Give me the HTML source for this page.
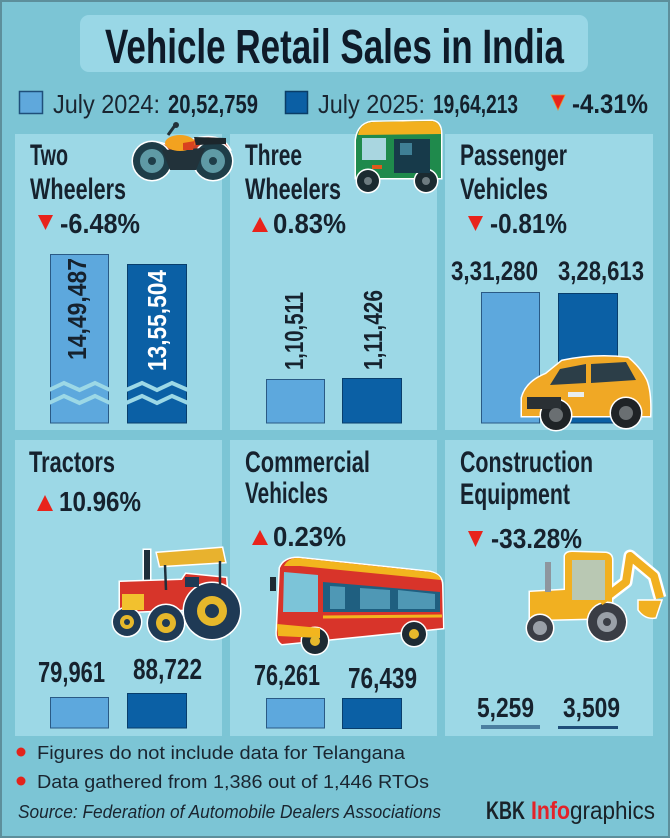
<!DOCTYPE html>
<html>
<head>
<meta charset="utf-8">
<style>
  html,body{margin:0;padding:0;background:#7cc5d5;}
  svg{display:block;}
  text{font-family:"Liberation Sans",sans-serif;}
</style>
</head>
<body>
<svg width="670" height="838" viewBox="0 0 670 838" xmlns="http://www.w3.org/2000/svg">
  <!-- background -->
  <rect x="0" y="0" width="670" height="838" fill="#7cc5d5"/>
  <rect x="1" y="1" width="668" height="836" fill="none" stroke="#5d8f9b" stroke-width="2"/>

  <!-- title -->
  <rect x="80" y="15" width="508" height="57" rx="9" fill="#99d7e6"/>
  <text x="105" y="63" font-size="48" font-weight="bold" fill="#0e1a28" textLength="459" lengthAdjust="spacingAndGlyphs">Vehicle Retail Sales in India</text>

  <!-- legend -->
  <rect x="19.5" y="91.5" width="23" height="22" fill="#5fa8dc" stroke="#1f4f7a" stroke-width="1.5"/>
  <text x="53" y="113" font-size="26" fill="#1a2530" textLength="107" lengthAdjust="spacingAndGlyphs">July 2024:</text>
  <text x="168" y="113" font-size="26" font-weight="bold" fill="#14202c" textLength="90" lengthAdjust="spacingAndGlyphs">20,52,759</text>
  <rect x="285.5" y="91.5" width="22" height="22" fill="#0b5fa4" stroke="#0a3d66" stroke-width="1.5"/>
  <text x="318" y="113" font-size="26" fill="#1a2530" textLength="107" lengthAdjust="spacingAndGlyphs">July 2025:</text>
  <text x="433" y="113" font-size="26" font-weight="bold" fill="#14202c" textLength="85" lengthAdjust="spacingAndGlyphs">19,64,213</text>
  <polygon points="551,95 565,95 558,110" fill="#e8231b" stroke="#f08a2a" stroke-width="0.8"/>
  <text x="572" y="113" font-size="27" font-weight="bold" fill="#14202c" textLength="76" lengthAdjust="spacingAndGlyphs">-4.31%</text>

  <!-- panels -->
  <g fill="#9cd8e6">
    <rect x="15" y="134" width="207" height="296"/>
    <rect x="230" y="134" width="207" height="296"/>
    <rect x="445" y="134" width="208" height="296"/>
    <rect x="15" y="440" width="207" height="296"/>
    <rect x="230" y="440" width="207" height="296"/>
    <rect x="445" y="440" width="208" height="296"/>
  </g>

  <!-- ===== Panel 1: Two Wheelers ===== -->
  <g fill="#16222e" font-weight="bold">
    <text x="30" y="165" font-size="30" textLength="38" lengthAdjust="spacingAndGlyphs">Two</text>
    <text x="30" y="199" font-size="30" textLength="96" lengthAdjust="spacingAndGlyphs">Wheelers</text>
    <text x="60" y="233" font-size="28" textLength="80" lengthAdjust="spacingAndGlyphs">-6.48%</text>
  </g>
  <polygon points="38,215 53,215 45.5,230" fill="#e8231b"/>
  <!-- bars -->
  <rect x="50.5" y="254.5" width="58" height="168.5" fill="#5da8dd" stroke="#2a5a85" stroke-width="1"/>
  <rect x="127.5" y="264.5" width="59" height="158.5" fill="#0b60a5" stroke="#083e6c" stroke-width="1"/>
  <g fill="none" stroke="#9cd8e6" stroke-width="4" stroke-linejoin="miter">
    <polyline points="49,390 64,383 79.5,390 95,383 110,390"/>
    <polyline points="49,403 64,396 79.5,403 95,396 110,403"/>
    <polyline points="126,390 142,383 157,390 172,383 188,390"/>
    <polyline points="126,403 142,396 157,403 172,396 188,403"/>
  </g>
  <text transform="translate(86,360) rotate(-90)" font-size="26" font-weight="bold" fill="#16222e" textLength="102" lengthAdjust="spacingAndGlyphs">14,49,487</text>
  <text transform="translate(166,371) rotate(-90)" font-size="26" font-weight="bold" fill="#ffffff" textLength="101" lengthAdjust="spacingAndGlyphs">13,55,504</text>
  <!-- motorcycle -->
  <g stroke="#ffffff" stroke-width="3" paint-order="stroke">
    <path d="M140,150 Q152,138 168,146 L200,138 Q222,134 230,150 L224,160 L150,160 Z" fill="#c8402a"/>
    <circle cx="152" cy="161" r="19" fill="#1e3d48"/>
    <circle cx="213" cy="161" r="19" fill="#1e3d48"/>
  </g>
  <circle cx="152" cy="161" r="12" fill="#5f9aa5"/>
  <circle cx="152" cy="161" r="4" fill="#1e3d48"/>
  <circle cx="213" cy="161" r="12" fill="#5f9aa5"/>
  <circle cx="213" cy="161" r="4" fill="#1e3d48"/>
  <polygon points="162,150 205,148 196,170 170,170" fill="#22323a"/>
  <ellipse cx="180" cy="143" rx="15" ry="8" fill="#f3a21f"/>
  <path d="M183,143 L195,141 L193,150 L183,150 Z" fill="#d9421f"/>
  <path d="M194,137 L226,138 L226,144 L196,145 Z" fill="#1c262c"/>
  <line x1="168" y1="135" x2="176" y2="124" stroke="#22323a" stroke-width="3"/>
  <circle cx="176" cy="125" r="3" fill="#22323a"/>

  <!-- ===== Panel 2: Three Wheelers ===== -->
  <g fill="#16222e" font-weight="bold">
    <text x="245" y="165" font-size="30" textLength="57" lengthAdjust="spacingAndGlyphs">Three</text>
    <text x="245" y="199" font-size="30" textLength="96" lengthAdjust="spacingAndGlyphs">Wheelers</text>
    <text x="273" y="233" font-size="28" textLength="73" lengthAdjust="spacingAndGlyphs">0.83%</text>
  </g>
  <polygon points="252,232 268,232 260,217" fill="#e8231b"/>
  <rect x="266.5" y="379.5" width="58" height="43.5" fill="#5da8dd" stroke="#2a5a85" stroke-width="1"/>
  <rect x="342.5" y="378.5" width="59" height="44.5" fill="#0b60a5" stroke="#083e6c" stroke-width="1"/>
  <text transform="translate(303,370) rotate(-90)" font-size="26" font-weight="bold" fill="#16222e" textLength="78" lengthAdjust="spacingAndGlyphs">1,10,511</text>
  <text transform="translate(382,370) rotate(-90)" font-size="26" font-weight="bold" fill="#16222e" textLength="80" lengthAdjust="spacingAndGlyphs">1,11,426</text>
  <!-- auto rickshaw -->
  <g stroke="#ffffff" stroke-width="3" paint-order="stroke">
    <path d="M356,178 L356,140 Q358,124 372,122 L432,121 Q441,122 441,134 L441,178 Z" fill="#1f8a4c"/>
    <circle cx="368" cy="181" r="11" fill="#1b2a30"/>
    <circle cx="426" cy="181" r="11" fill="#1b2a30"/>
  </g>
  <path d="M358,135 Q360,123 373,122 L432,121 Q441,122 441,134 Z" fill="#f2b01e"/>
  <rect x="362" y="138" width="24" height="22" fill="#a9d6e0"/>
  <rect x="394" y="139" width="36" height="34" fill="#173a4a"/>
  <rect x="400" y="143" width="12" height="12" fill="#3f7f95"/>
  <circle cx="368" cy="181" r="4" fill="#6d7b80"/>
  <circle cx="426" cy="181" r="4" fill="#6d7b80"/>
  <rect x="372" y="165" width="10" height="4" fill="#e05a1c"/>

  <!-- ===== Panel 3: Passenger Vehicles ===== -->
  <g fill="#16222e" font-weight="bold">
    <text x="460" y="165" font-size="30" textLength="107" lengthAdjust="spacingAndGlyphs">Passenger</text>
    <text x="460" y="199" font-size="30" textLength="88" lengthAdjust="spacingAndGlyphs">Vehicles</text>
    <text x="490" y="233" font-size="28" textLength="77" lengthAdjust="spacingAndGlyphs">-0.81%</text>
    <text x="451" y="280" font-size="27" textLength="87" lengthAdjust="spacingAndGlyphs">3,31,280</text>
    <text x="558" y="280" font-size="27" textLength="86" lengthAdjust="spacingAndGlyphs">3,28,613</text>
  </g>
  <polygon points="468,216 483,216 475.5,231" fill="#e8231b"/>
  <rect x="481.5" y="292.5" width="58" height="130.5" fill="#5da8dd" stroke="#2a5a85" stroke-width="1"/>
  <rect x="558.5" y="293.5" width="59" height="129.5" fill="#0b60a5" stroke="#083e6c" stroke-width="1"/>
  <!-- car -->
  <g stroke="#ffffff" stroke-width="3" paint-order="stroke">
    <path d="M522,398 Q526,382 546,374 L562,361 Q595,354 628,358 Q640,368 646,380 Q651,392 650,416 L522,416 Z" fill="#f0a825"/>
    <circle cx="556" cy="415" r="15" fill="#1f2326"/>
    <circle cx="626" cy="413" r="15" fill="#1f2326"/>
  </g>
  <polygon points="560,369 586,364 586,383 550,385" fill="#2c3e48"/>
  <polygon points="591,364 626,362 636,380 591,383" fill="#2c3e48"/>
  <rect x="527" y="397" width="34" height="12" fill="#2a3034"/>
  <rect x="568" y="392" width="16" height="5" fill="#e8eef0"/>
  <circle cx="556" cy="415" r="7" fill="#6a6f72"/>
  <circle cx="626" cy="413" r="7" fill="#6a6f72"/>

  <!-- ===== Panel 4: Tractors ===== -->
  <g fill="#16222e" font-weight="bold">
    <text x="29" y="472" font-size="30" textLength="86" lengthAdjust="spacingAndGlyphs">Tractors</text>
    <text x="59" y="511" font-size="28" textLength="82" lengthAdjust="spacingAndGlyphs">10.96%</text>
    <text x="38" y="682" font-size="29" textLength="67" lengthAdjust="spacingAndGlyphs">79,961</text>
    <text x="133" y="679" font-size="29" textLength="69" lengthAdjust="spacingAndGlyphs">88,722</text>
  </g>
  <polygon points="37,511 53,511 45,495" fill="#e8231b"/>
  <rect x="50.5" y="697.5" width="58" height="30.5" fill="#5da8dd" stroke="#2a5a85" stroke-width="1"/>
  <rect x="127.5" y="693.5" width="59" height="34.5" fill="#0b60a5" stroke="#083e6c" stroke-width="1"/>
  <!-- tractor -->
  <g stroke="#ffffff" stroke-width="3" paint-order="stroke">
    <polygon points="157,553 222,548 225,562 160,566" fill="#e8b22e"/>
    <rect x="144" y="550" width="6" height="32" fill="#1f2e3a"/>
    <path d="M120,582 L182,580 L186,574 L226,578 L228,608 L120,612 Z" fill="#d7352a"/>
    <circle cx="212" cy="611" r="28" fill="#1f3a55"/>
    <circle cx="166" cy="623" r="18" fill="#1f3a55"/>
    <circle cx="127" cy="622" r="14" fill="#1f3a55"/>
  </g>
  <line x1="165" y1="565" x2="166" y2="590" stroke="#1f2e3a" stroke-width="2.5"/>
  <line x1="220" y1="561" x2="220" y2="585" stroke="#1f2e3a" stroke-width="2.5"/>
  <rect x="122" y="594" width="22" height="16" fill="#f2c12e"/>
  <rect x="185" y="577" width="14" height="10" fill="#1f3a55"/>
  <circle cx="212" cy="611" r="15" fill="#e6b82b"/>
  <circle cx="212" cy="611" r="7" fill="#1f3a55"/>
  <circle cx="166" cy="623" r="10" fill="#e6b82b"/>
  <circle cx="166" cy="623" r="4" fill="#1f3a55"/>
  <circle cx="127" cy="622" r="7" fill="#e6b82b"/>
  <circle cx="127" cy="622" r="3" fill="#1f3a55"/>

  <!-- ===== Panel 5: Commercial Vehicles ===== -->
  <g fill="#16222e" font-weight="bold">
    <text x="245" y="472" font-size="30" textLength="125" lengthAdjust="spacingAndGlyphs">Commercial</text>
    <text x="245" y="503" font-size="30" textLength="83" lengthAdjust="spacingAndGlyphs">Vehicles</text>
    <text x="273" y="546" font-size="28" textLength="73" lengthAdjust="spacingAndGlyphs">0.23%</text>
    <text x="254" y="685" font-size="29" textLength="66" lengthAdjust="spacingAndGlyphs">76,261</text>
    <text x="348" y="688" font-size="29" textLength="69" lengthAdjust="spacingAndGlyphs">76,439</text>
  </g>
  <polygon points="252,545 268,545 260,530" fill="#e8231b"/>
  <rect x="266.5" y="698.5" width="58" height="29.5" fill="#5da8dd" stroke="#2a5a85" stroke-width="1"/>
  <rect x="342.5" y="698.5" width="59" height="30" fill="#0b60a5" stroke="#083e6c" stroke-width="1"/>
  <!-- bus -->
  <g stroke="#ffffff" stroke-width="3" paint-order="stroke">
    <path d="M280,568 Q284,558 298,558 L430,572 Q442,575 442,585 L443,628 L282,644 Q276,640 277,630 Z" fill="#d8342a"/>
    <circle cx="315" cy="641" r="13" fill="#1d2a33"/>
    <circle cx="414" cy="634" r="12" fill="#1d2a33"/>
  </g>
  <path d="M284,566 Q288,558 298,558 L430,572 Q440,574 441,580 L300,566 Z" fill="#f2b51e"/>
  <polygon points="284,572 318,575 318,612 283,612" fill="#7cc4d8"/>
  <polygon points="323,582 440,592 440,612 323,612" fill="#1f5f80"/>
  <polygon points="330,586 345,587 345,609 330,609" fill="#4f98b5"/>
  <polygon points="360,588 390,590 390,609 360,609" fill="#4f98b5"/>
  <polygon points="398,590 435,594 435,609 398,609" fill="#4f98b5"/>
  <line x1="323" y1="617" x2="442" y2="616" stroke="#f2b51e" stroke-width="3"/>
  <polygon points="277,624 320,628 320,638 278,636" fill="#f2b51e"/>
  <rect x="270" y="577" width="6" height="14" fill="#1d2a33"/>
  <circle cx="315" cy="641" r="5" fill="#e6b82b"/>
  <circle cx="414" cy="634" r="5" fill="#e6b82b"/>

  <!-- ===== Panel 6: Construction Equipment ===== -->
  <g fill="#16222e" font-weight="bold">
    <text x="460" y="472" font-size="30" textLength="133" lengthAdjust="spacingAndGlyphs">Construction</text>
    <text x="460" y="504" font-size="30" textLength="110" lengthAdjust="spacingAndGlyphs">Equipment</text>
    <text x="491" y="548" font-size="28" textLength="91" lengthAdjust="spacingAndGlyphs">-33.28%</text>
    <text x="477" y="717" font-size="28" textLength="57" lengthAdjust="spacingAndGlyphs">5,259</text>
    <text x="563" y="717" font-size="28" textLength="57" lengthAdjust="spacingAndGlyphs">3,509</text>
  </g>
  <polygon points="468,531 483,531 475.5,547" fill="#e8231b"/>
  <rect x="481" y="725" width="59" height="4" fill="#4b7fa0"/>
  <rect x="558" y="726" width="60" height="3" fill="#1f4e79"/>
  <!-- backhoe -->
  <g stroke="#ffffff" stroke-width="3" paint-order="stroke">
    <polyline points="600,602 626,582 630,556 654,576 660,598" fill="none" stroke-width="13" stroke-linejoin="round"/>
    <path d="M565,556 Q566,552 572,552 L606,553 Q612,554 612,560 L612,618 L530,620 L530,592 L565,590 Z" fill="#f1b021"/>
    <circle cx="540" cy="628" r="13" fill="#3a3d45"/>
    <circle cx="607" cy="622" r="19" fill="#3a3d45"/>
  </g>
  <polyline points="600,602 626,582 630,556 654,576 660,598" fill="none" stroke="#f1b021" stroke-width="8" stroke-linejoin="round"/>
  <path d="M638,600 L662,600 L656,618 Q645,620 638,610 Z" fill="#f1b021" stroke="#ffffff" stroke-width="1.5"/>
  <rect x="572" y="560" width="33" height="40" fill="#b9c8b3"/>
  <rect x="545" y="562" width="6" height="30" fill="#8e969e"/>
  <circle cx="540" cy="628" r="7" fill="#9aa0a8"/>
  <circle cx="607" cy="622" r="10" fill="#9aa0a8"/>
  <circle cx="607" cy="622" r="4" fill="#3a3d45"/>

  <!-- ===== Footer ===== -->
  <circle cx="21" cy="752" r="4.5" fill="#e3231b"/>
  <circle cx="21" cy="781" r="4.5" fill="#e3231b"/>
  <text x="37" y="759" font-size="18" fill="#1a2530" textLength="368" lengthAdjust="spacingAndGlyphs">Figures do not include data for Telangana</text>
  <text x="37" y="788" font-size="18" fill="#1a2530" textLength="392" lengthAdjust="spacingAndGlyphs">Data gathered from 1,386 out of 1,446 RTOs</text>
  <text x="18" y="818" font-size="18" font-style="italic" fill="#1a2530" textLength="423" lengthAdjust="spacingAndGlyphs">Source: Federation of Automobile Dealers Associations</text>
  <text x="486" y="819" font-size="25" font-weight="bold" fill="#1a2228" textLength="39" lengthAdjust="spacingAndGlyphs">KBK</text>
  <text x="531" y="819" font-size="25" font-weight="bold" fill="#e3232a" textLength="39" lengthAdjust="spacingAndGlyphs">Info</text>
  <text x="570" y="819" font-size="25" fill="#1a2228" textLength="85" lengthAdjust="spacingAndGlyphs">graphics</text>
</svg>
</body>
</html>
